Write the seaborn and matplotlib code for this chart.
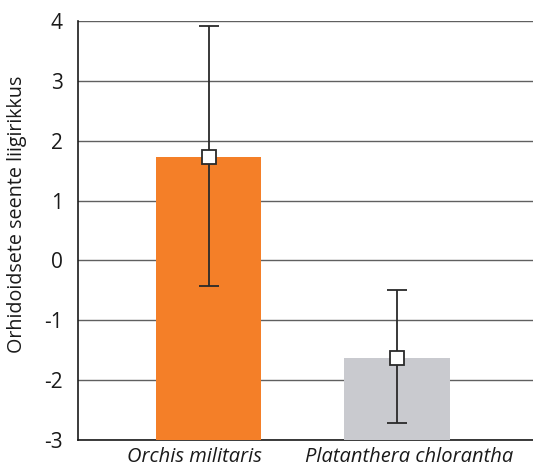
import numpy as np
import pandas as pd
import matplotlib
matplotlib.use("Agg")
import matplotlib.pyplot as plt
import matplotlib.transforms as mtrans
import seaborn as sns

# Data
categories = ["Orchis militaris", "Platanthera chlorantha"]
means = [1.72, -1.63]
upper = [3.92, -0.50]
lower = [-0.42, -2.72]
bar_colors = ["#F47F28", "#C9CACF"]
yticks = [-3, -2, -1, 0, 1, 2, 3, 4]
baseline = -3
ylabel = "Orhidoidsete seente liigirikkus"

sns.set_theme(style="white")
plt.rcParams['font.family'] = ['Open Sans', 'DejaVu Sans']

fig = plt.figure(figsize=(5.33, 4.67), dpi=100)
ax = fig.add_axes([78/533, 1-440/467, 1-78/533, (440-21)/467])

df = pd.DataFrame({"cat": categories, "h": np.array(means) - baseline})
sns.barplot(data=df, x="cat", y="h", hue="cat", palette=bar_colors,
            bottom=baseline, width=0.56, legend=False, ax=ax, zorder=3,
            saturation=1, linewidth=0, edgecolor="none")

xs = np.arange(len(categories))
m = np.array(means)
yerr = np.vstack([m - np.array(lower), np.array(upper) - m])
ax.errorbar(xs, m, yerr=yerr, fmt="s", color="#2a2a2a", ecolor="#2a2a2a",
            elinewidth=1.3, capsize=7.5, capthick=1.3,
            markerfacecolor="white", markeredgecolor="#2a2a2a",
            markersize=10.5, markeredgewidth=1.3, zorder=5)

ax.set_ylim(-3, 4)
ax.set_xlim(-0.693, 1.72)
ax.set_yticks(yticks)
ax.set_yticklabels([str(t) for t in yticks])
ax.grid(axis="y", color="#606060", linewidth=1.0, zorder=0)
ax.set_axisbelow(True)
ax.tick_params(axis="y", length=0, pad=11, labelsize=15, colors="#1a1a1a")
ax.tick_params(axis="x", length=0, pad=5, labelsize=14.5, colors="#1a1a1a")
offsets = [-14, 12]
for lab, dx in zip(ax.get_xticklabels(), offsets):
    lab.set_fontstyle("italic")
    lab.set_transform(lab.get_transform() +
                      mtrans.ScaledTranslation(dx/100, 0, fig.dpi_scale_trans))
ax.set_xlabel("")
ax.set_ylabel(ylabel, fontsize=14.2, color="#1a1a1a")
ax.yaxis.set_label_coords(-0.112, 0.538)

for s in ["top", "right"]:
    ax.spines[s].set_visible(False)
for s in ["left", "bottom"]:
    ax.spines[s].set_color("#1a1a1a")
    ax.spines[s].set_linewidth(1.2)

fig.savefig("out.png", dpi=100)
